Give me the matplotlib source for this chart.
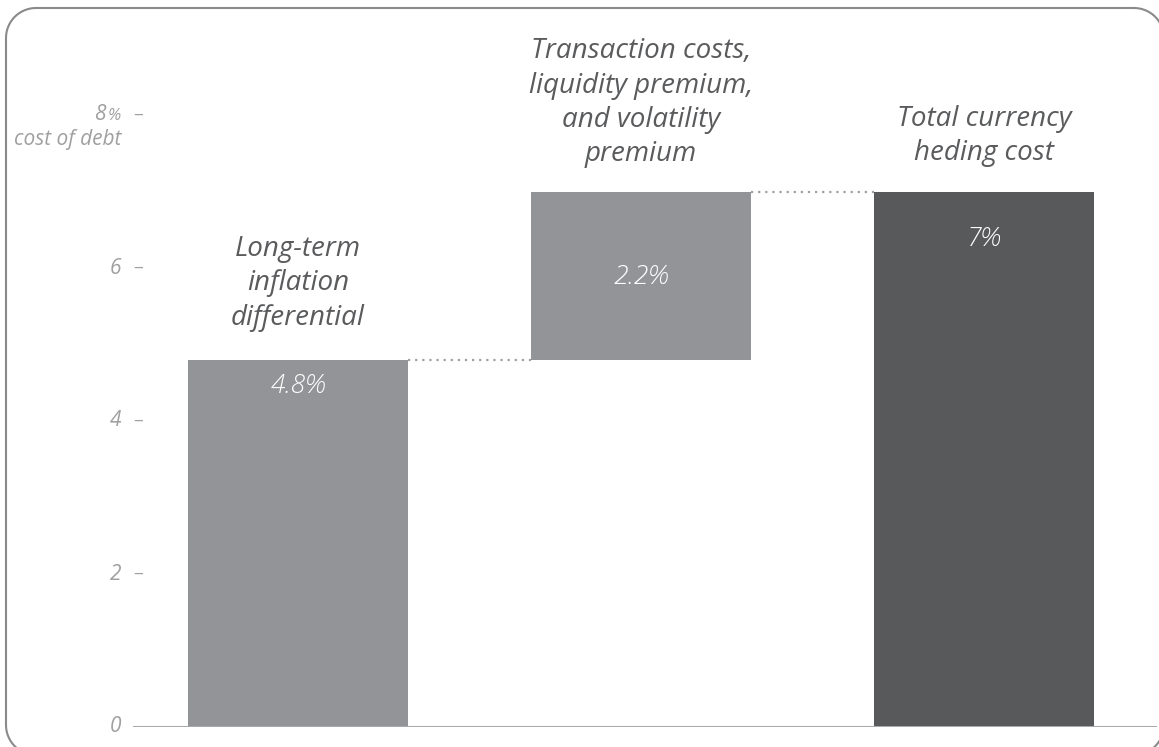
import numpy as np
import matplotlib.pyplot as plt

plt.rcParams['font.family'] = ['Open Sans', 'DejaVu Sans']

categories = ["Long-term\ninflation\ndifferential",
              "Transaction costs,\nliquidity premium,\nand volatility\npremium",
              "Total currency\nheding cost"]
values = [4.8, 2.2, 7.0]
value_labels = ["4.8%", "2.2%", "7%"]
is_total = [False, False, True]
yticks = [0, 2, 4, 6, 8]
ytick_labels = ["0", "2", "4", "6", "8"]

# waterfall bottoms
bottoms = []
running = 0.0
for v, tot in zip(values, is_total):
    if tot:
        bottoms.append(0.0)
    else:
        bottoms.append(running)
        running += v
bottoms = np.array(bottoms)
tops = bottoms + np.array(values)

W, H = 1159, 747
fig = plt.figure(figsize=(W / 100, H / 100), dpi=100)


def rounded_rect(x0, y0, x1, y1, r, n=20):
    # outline of a rounded rectangle in pixel units (y grows downward)
    pts = []
    corners = [(x1 - r, y0 + r, -90, 0), (x1 - r, y1 - r, 0, 90),
               (x0 + r, y1 - r, 90, 180), (x0 + r, y0 + r, 180, 270)]
    for cx, cy, a0, a1 in corners:
        t = np.radians(np.linspace(a0, a1, n))
        pts += list(zip(cx + r * np.cos(t), cy + r * np.sin(t)))
    pts.append(pts[0])
    return np.array(pts)


# overlay axes in pixel units for the rounded frame
bg = fig.add_axes([0, 0, 1, 1])
bg.set_xlim(0, W)
bg.set_ylim(H, 0)
bg.axis('off')
outline = rounded_rect(6, 8, 1164, 755, 30)
bg.plot(outline[:, 0], outline[:, 1], color='#8a8a8a', lw=1.5, clip_on=False)

ax = fig.add_axes([133 / W, 20 / H, (1157 - 133) / W, 727 / H])

x = np.arange(len(values))
colors = ['#939497', '#939497', '#58595b']
bw = 0.641
ax.bar(x, values, bottom=bottoms, width=bw, color=colors, zorder=2)

# dotted connectors
for i in range(len(values) - 1):
    ax.plot([x[i] + bw / 2, x[i + 1] - bw / 2], [tops[i], tops[i]],
            linestyle=(0, (1, 2.2)), color='#a0a0a0', lw=1.6, zorder=1)

# baseline
ax.axhline(0, color='#a7a9ac', lw=2.2, zorder=3)

ax.set_xlim(-0.481, 2.504)
ax.set_ylim(0, 727 / 76.5)
ax.axis('off')

# value labels inside bars
val_y = [4.45, 5.87, 6.37]
for xi, lab, yy in zip(x, value_labels, val_y):
    ax.text(xi, yy, lab, ha='center', va='center', color='white',
            fontsize=19, style='italic', fontweight='light', zorder=4)

# category labels
cat_y = [5.8, 8.16, 7.73]
for xi, lab, yy in zip(x, categories, cat_y):
    ax.text(xi, yy, lab, ha='center', va='center', color='#5a5b5d',
            fontsize=20, style='italic', linespacing=1.3)

# y tick labels
tr = ax.get_yaxis_transform()
tick_color = '#a0a0a0'
for v, lab in zip(yticks, ytick_labels):
    if v == 8:
        ax.annotate('%', xy=(0, v), xycoords=tr, xytext=(-12, -1),
                    textcoords='offset pixels', ha='right', va='center',
                    color=tick_color, fontsize=12, style='italic')
        ax.annotate(lab, xy=(0, v), xycoords=tr, xytext=(-27, 0),
                    textcoords='offset pixels', ha='right', va='center',
                    color=tick_color, fontsize=15, style='italic')
        ax.annotate('cost of debt', xy=(0, v), xycoords=tr, xytext=(-12, -24),
                    textcoords='offset pixels', ha='right', va='center',
                    color=tick_color, fontsize=15, style='italic')
    else:
        ax.annotate(lab, xy=(0, v), xycoords=tr, xytext=(-12, 0),
                    textcoords='offset pixels', ha='right', va='center',
                    color=tick_color, fontsize=15, style='italic')
    if v != 0:
        ax.annotate('–', xy=(0, v), xycoords=tr, xytext=(0, 0),
                    textcoords='offset pixels', ha='left', va='center',
                    color=tick_color, fontsize=14)

fig.savefig('out.png', dpi=100)
